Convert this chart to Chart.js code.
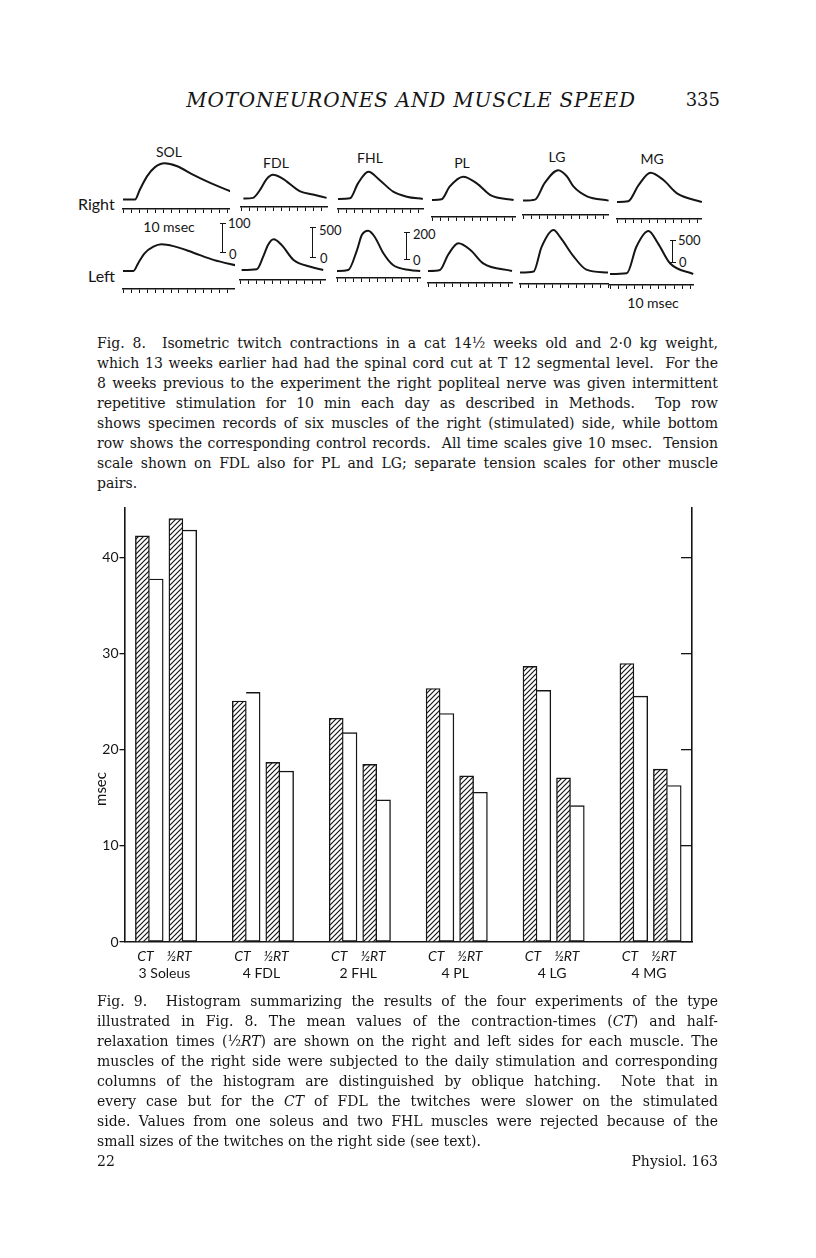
<!DOCTYPE html>
<html>
<head>
<meta charset="utf-8">
<script src="https://cdn.jsdelivr.net/npm/chart.js@4.4.1/dist/chart.umd.min.js"></script>
<style>
html, body { margin: 0; padding: 0; background: #fff; }
#page { position: relative; width: 816px; height: 1258px; overflow: hidden; color: #151515; }
.abs { position: absolute; white-space: nowrap; }
.serif { font-family: "DejaVu Serif", serif; }
.sans { font-family: Lato, "Open Sans", sans-serif; }
.c { position: absolute; white-space: nowrap; line-height: 1; transform: translate(-50%, -50%); }
.lv { position: absolute; white-space: nowrap; line-height: 1; transform: translateY(-50%); }
.cap { position: absolute; left: 97px; width: 621px; font-family: "DejaVu Serif", serif; font-size: 14px;
       line-height: 20px; white-space: nowrap; text-align: justify; text-align-last: justify; }
.cap.last { text-align: left; text-align-last: left; }
.calib { position: absolute; width: 6px; border-top: 1.5px solid #151515; border-bottom: 1.5px solid #151515; box-sizing: border-box; }
.calib::before { content: ""; position: absolute; left: 2.2px; top: 0; bottom: 0; border-left: 1.6px solid #151515; }
canvas { position: absolute; }
</style>
</head>
<body>
<div id="page">
  <div class="abs serif" style="left:0;width:822px;top:88px;text-align:center;font-size:20px;line-height:24px;font-style:italic;letter-spacing:0.8px">MOTONEURONES AND MUSCLE SPEED</div>
  <div class="abs serif" style="left:620px;width:100px;top:89px;text-align:right;font-size:18px;line-height:22px">335</div>

  <!-- Fig. 8 labels -->
  <div class="c sans" style="left:169px;top:152px;font-size:14px">SOL</div>
  <div class="c sans" style="left:276px;top:163px;font-size:14px">FDL</div>
  <div class="c sans" style="left:370px;top:158px;font-size:14px">FHL</div>
  <div class="c sans" style="left:462px;top:163px;font-size:14px">PL</div>
  <div class="c sans" style="left:557px;top:157px;font-size:14px">LG</div>
  <div class="c sans" style="left:652px;top:159px;font-size:14px">MG</div>
  <div class="lv sans" style="left:78px;top:204px;font-size:16px">Right</div>
  <div class="lv sans" style="left:88px;top:276px;font-size:16px">Left</div>
  <div class="c sans" style="left:169px;top:227px;font-size:14px">10 msec</div>
  <div class="c sans" style="left:653px;top:303px;font-size:14px">10 msec</div>

  <div class="calib" style="left:220px;top:223px;height:30px"></div>
  <div class="lv sans" style="left:228px;top:223px;font-size:13px">100</div>
  <div class="lv sans" style="left:229px;top:254px;font-size:13px">0</div>
  <div class="calib" style="left:310px;top:227px;height:31px"></div>
  <div class="lv sans" style="left:319px;top:230px;font-size:13px">500</div>
  <div class="lv sans" style="left:320px;top:258px;font-size:13px">0</div>
  <div class="calib" style="left:404px;top:232px;height:28px"></div>
  <div class="lv sans" style="left:413px;top:234px;font-size:13px">200</div>
  <div class="lv sans" style="left:413px;top:260px;font-size:13px">0</div>
  <div class="calib" style="left:670px;top:240px;height:23px"></div>
  <div class="lv sans" style="left:678px;top:240px;font-size:13px">500</div>
  <div class="lv sans" style="left:679px;top:262px;font-size:13px">0</div>

  <!-- Fig. 8 caption -->
  <div class="cap" style="top:333px">Fig. 8.&nbsp; Isometric twitch contractions in a cat 14½ weeks old and 2·0 kg weight,</div>
  <div class="cap" style="top:353px">which 13 weeks earlier had had the spinal cord cut at T 12 segmental level.&nbsp; For the</div>
  <div class="cap" style="top:373px">8 weeks previous to the experiment the right popliteal nerve was given intermittent</div>
  <div class="cap" style="top:393px">repetitive stimulation for 10 min each day as described in Methods.&nbsp; Top row</div>
  <div class="cap" style="top:413px">shows specimen records of six muscles of the right (stimulated) side, while bottom</div>
  <div class="cap" style="top:433px">row shows the corresponding control records.&nbsp; All time scales give 10 msec.&nbsp; Tension</div>
  <div class="cap" style="top:453px">scale shown on FDL also for PL and LG; separate tension scales for other muscle</div>
  <div class="cap last" style="top:473px">pairs.</div>

  <canvas id="hist" width="680" height="510" style="left:60px;top:495px"></canvas>
  <div class="c sans" style="left:100px;top:789px;font-size:15px;transform:translate(-50%,-50%) rotate(-90deg)">msec</div>

  <!-- Fig. 9 caption -->
  <div class="cap" style="top:991px">Fig. 9.&nbsp; Histogram summarizing the results of the four experiments of the type</div>
  <div class="cap" style="top:1011px">illustrated in Fig. 8. The mean values of the contraction-times (<i>CT</i>) and half-</div>
  <div class="cap" style="top:1031px">relaxation times (½<i>RT</i>) are shown on the right and left sides for each muscle. The</div>
  <div class="cap" style="top:1051px">muscles of the right side were subjected to the daily stimulation and corresponding</div>
  <div class="cap" style="top:1071px">columns of the histogram are distinguished by oblique hatching.&nbsp; Note that in</div>
  <div class="cap" style="top:1091px">every case but for the <i>CT</i> of FDL the twitches were slower on the stimulated</div>
  <div class="cap" style="top:1111px">side. Values from one soleus and two FHL muscles were rejected because of the</div>
  <div class="cap last" style="top:1131px">small sizes of the twitches on the right side (see text).</div>
  <div class="abs serif" style="left:97px;top:1151px;font-size:14px;line-height:20px">22</div>
  <div class="abs serif" style="left:518px;width:200px;top:1151px;text-align:right;font-size:14px;line-height:20px">Physiol. 163</div>
</div>

<script>
// Fig. 9 - mean values, msec
const muscles = ['3 Soleus', '4 FDL', '2 FHL', '4 PL', '4 LG', '4 MG'];
const pairLabel = 'CT\u2003 \u00BDRT';
const ctStim = [42.3, 25.1, 23.3, 26.4, 28.7, 29.0];   // right side, hatched
const ctCtrl = [37.8, 26.0, 21.8, 23.8, 26.2, 25.6];   // left side, open
const rtStim = [44.1, 18.7, 18.5, 17.3, 17.1, 18.0];
const rtCtrl = [42.9, 17.8, 14.8, 15.6, 14.2, 16.3];
const yTicks = [0, 10, 20, 30, 40];

// Fig. 8 - twitch records as [msec, grams]
const solRight = [[0, 0], [15, 0], [21, 33], [30, 78], [40, 109], [52, 122], [67, 113], [88, 83], [109, 56], [138, 24]];
const fdlRight = [[3, 0], [15, 12], [24, 150], [32, 328], [40, 400], [51, 345], [74, 122], [90, 67], [107, 12]];
const fhlRight = [[0, 0], [15, 5], [25, 116], [38, 202], [52, 141], [69, 54], [86, 17], [106, 0]];
const plRight  = [[0, 0], [12, 12], [22, 222], [39, 389], [56, 278], [73, 83], [102, 0]];
const lgRight  = [[0, 0], [15, 17], [27, 295], [44, 510], [55, 405], [63, 238], [80, 72], [107, 0]];
const mgRight  = [[0, 0], [14, 16], [27, 386], [42, 664], [58, 500], [75, 197], [106, 0]];
const solLeft  = [[0, 0], [13, 0], [19, 26], [27, 59], [38, 81], [48, 89], [63, 83], [88, 61], [113, 37], [144, 17]];
const fdlLeft  = [[2, 0], [21, 12], [29, 222], [35, 417], [42, 511], [52, 417], [67, 167], [88, 55], [104, 0]];
const fhlLeft  = [[0, 0], [14, 7], [25, 155], [31, 266], [39, 298], [47, 254], [58, 131], [70, 44], [91, 7], [104, 0]];
const plLeft   = [[0, 0], [15, 17], [25, 267], [38, 461], [53, 350], [69, 128], [105, 0]];
const lgLeft   = [[0, 0], [17, 17], [27, 433], [42, 717], [50, 600], [67, 272], [83, 50], [110, 0]];
const mgLeft   = [[0, 0], [21, 16], [33, 620], [48, 976], [60, 697], [75, 243], [104, 0]];

const ink = '#151515';
const page = document.getElementById('page');

// ---------- Fig. 8 traces, one small chart per record ----------
const MS_PER_PX = 1.25;   // time marks every 10 msec, about 8 px apart

const panels = [
  { trace: solRight, x0: 123, x1: 229, base: 200, comb: 209.5, gPx: 100 / 30 },
  { trace: fdlRight, x0: 241, x1: 327, base: 199, comb: 207.5, gPx: 500 / 30 },
  { trace: fhlRight, x0: 338, x1: 423, base: 199, comb: 209, gPx: 200 / 27 },
  { trace: plRight,  x0: 432, x1: 515, base: 200, comb: 217, gPx: 500 / 30 },
  { trace: lgRight,  x0: 523, x1: 608, base: 201, comb: 215.5, gPx: 500 / 30 },
  { trace: mgRight,  x0: 617, x1: 701, base: 202, comb: 219, gPx: 500 / 22 },
  { trace: solLeft,  x0: 123, x1: 234, base: 271, comb: 289, gPx: 100 / 30 },
  { trace: fdlLeft,  x0: 240, x1: 325, base: 270, comb: 280, gPx: 500 / 30 },
  { trace: fhlLeft,  x0: 337, x1: 420, base: 271, comb: 278, gPx: 200 / 27 },
  { trace: plLeft,   x0: 428, x1: 512, base: 271, comb: 283, gPx: 500 / 30 },
  { trace: lgLeft,   x0: 520, x1: 608, base: 273, comb: 284.5, gPx: 500 / 30 },
  { trace: mgLeft,   x0: 610, x1: 693, base: 274, comb: 285, gPx: 500 / 22 }
];

function drawTrace(p) {
  const top = p.base - 50;
  const cv = document.createElement('canvas');
  cv.width = p.x1 - p.x0 + 2;
  cv.height = p.comb + 5 - top;
  cv.style.left = (p.x0 - 1) + 'px';
  cv.style.top = top + 'px';
  page.appendChild(cv);

  const yMin = -(p.comb - p.base) * p.gPx;
  new Chart(cv, {
    type: 'line',
    data: {
      datasets: [{
        data: p.trace.map(([t, g]) => ({ x: t, y: g })),
        borderColor: ink,
        borderWidth: 2,
        pointRadius: 0,
        cubicInterpolationMode: 'monotone',
        clip: false
      }]
    },
    options: {
      responsive: false,
      animation: false,
      events: [],
      layout: { padding: { left: 1, right: 1, top: 0, bottom: 0 } },
      plugins: { legend: { display: false }, tooltip: { enabled: false } },
      scales: {
        x: {
          type: 'linear',
          min: 0,
          max: (p.x1 - p.x0) * MS_PER_PX,
          ticks: { display: false },
          afterBuildTicks: s => {
            const marks = [];
            for (let t = 0; t <= s.max + 0.01; t += 10) marks.push({ value: t });
            s.ticks = marks;
          },
          grid: { display: true, drawOnChartArea: false, drawTicks: true, tickLength: 4, color: ink, lineWidth: 1 },
          border: { display: true, color: ink, width: 1.4 },
          afterFit: s => { s.height = 5; }
        },
        y: { display: false, min: yMin, max: yMin + (p.comb - top) * p.gPx }
      }
    }
  });
}
panels.forEach(drawTrace);

// ---------- Fig. 9 histogram ----------
function makeHatch() {
  const c = document.createElement('canvas');
  c.width = c.height = 5;
  const g = c.getContext('2d');
  g.fillStyle = '#fff';
  g.fillRect(0, 0, 5, 5);
  g.strokeStyle = ink;
  g.lineWidth = 1.2;
  g.beginPath();
  g.moveTo(-1, 6); g.lineTo(6, -1);
  g.moveTo(-1, 1); g.lineTo(1, -1);
  g.moveTo(4, 6); g.lineTo(6, 4);
  g.stroke();
  return g.createPattern(c, 'repeat');
}
const hatch = makeHatch();

// every column has its own index axis, so each one can sit at its own offset in the group
const AREA_LEFT = 124.5, AREA_W = 567.5, GROUP_PX = 96.9;
function rangeFrom(firstPx) {
  const min = -(firstPx - AREA_LEFT) / GROUP_PX;
  return { type: 'linear', axis: 'x', display: false, offset: false, min, max: min + AREA_W / GROUP_PX };
}
const labRange = rangeFrom(164.5);

const toPts = arr => arr.map((v, i) => ({ x: i, y: v }));
const barBase = { borderColor: ink, borderWidth: 1.4, barThickness: 14, grouped: false };

new Chart(document.getElementById('hist'), {
  type: 'bar',
  data: {
    datasets: [
      { ...barBase, label: 'CT right', data: toPts(ctStim), xAxisID: 'x', backgroundColor: hatch, borderSkipped: 'bottom' },
      { ...barBase, label: 'CT left', data: toPts(ctCtrl), xAxisID: 'xb', backgroundColor: '#fff', borderSkipped: 'left' },
      { ...barBase, label: '1/2 RT right', data: toPts(rtStim), xAxisID: 'xc', backgroundColor: hatch, borderSkipped: 'bottom' },
      { ...barBase, label: '1/2 RT left', data: toPts(rtCtrl), xAxisID: 'xd', backgroundColor: '#fff', borderSkipped: 'left' }
    ]
  },
  options: {
    responsive: false,
    animation: false,
    events: [],
    layout: { padding: { left: 0, right: 48, top: 13, bottom: 0 } },
    plugins: { legend: { display: false }, tooltip: { enabled: false } },
    scales: {
      x: rangeFrom(142.4),
      xb: rangeFrom(156.2),
      xc: rangeFrom(175.9),
      xd: rangeFrom(189.7),
      lab1: {
        type: 'linear', axis: 'x', position: 'bottom', offset: false, weight: 1,
        min: labRange.min, max: labRange.max,
        afterBuildTicks: s => { s.ticks = muscles.map((m, i) => ({ value: i })); },
        ticks: {
          callback: () => pairLabel, autoSkip: false, maxRotation: 0, padding: 6, color: ink,
          font: { family: 'Lato', size: 14, style: 'italic' }
        },
        grid: { display: false, drawTicks: false },
        border: { display: true, color: ink, width: 1.6 },
        afterFit: s => { s.height = 23; }
      },
      lab2: {
        type: 'linear', axis: 'x', position: 'bottom', offset: false, weight: 2,
        min: labRange.min, max: labRange.max,
        afterBuildTicks: s => { s.ticks = muscles.map((m, i) => ({ value: i })); },
        ticks: {
          callback: v => muscles[v], autoSkip: false, maxRotation: 0, padding: 0, color: ink,
          font: { family: 'Lato', size: 14 }
        },
        grid: { display: false, drawTicks: false },
        border: { display: false },
        afterFit: s => { s.height = 40; }
      },
      y: {
        position: 'left', min: 0, max: 45.2,
        afterBuildTicks: s => { s.ticks = yTicks.map(v => ({ value: v })); },
        ticks: { color: ink, padding: 1, font: { family: 'Lato', size: 14 } },
        grid: { display: true, drawOnChartArea: false, tickLength: 5, color: ink, lineWidth: 1.3 },
        border: { display: true, color: ink, width: 1.6 },
        afterFit: s => { s.width = 64.5; }
      },
      yr: {
        axis: 'y', position: { lab1: labRange.max }, min: 0, max: 45.2,
        afterBuildTicks: s => { s.ticks = yTicks.map(v => ({ value: v })); },
        ticks: { display: false },
        grid: { display: true, drawOnChartArea: false, tickLength: 10, color: ink, lineWidth: 1.3 },
        border: { display: true, color: ink, width: 1.6 },
        afterFit: s => { s.width = 0; }
      }
    }
  }
});
</script>
</body>
</html>
